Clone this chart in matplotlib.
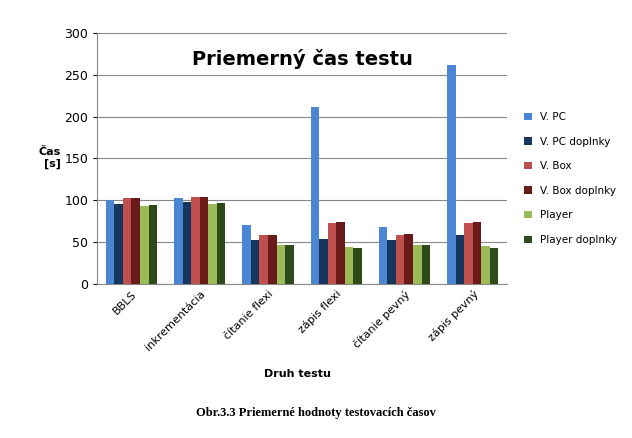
import matplotlib.pyplot as plt
import numpy as np

categories = ["BBLS", "inkrementácia", "čítanie flexi", "zápis flexi", "čítanie pevný", "zápis pevný"]
series_names = ["V. PC", "V. PC doplnky", "V. Box", "V. Box doplnky", "Player", "Player doplnky"]
v_pc = [100, 102, 70, 211, 68, 262]
v_pc_dopl = [96, 98, 52, 53, 52, 58]
v_box = [102, 104, 58, 73, 58, 73]
v_box_dopl = [102, 104, 58, 74, 59, 74]
player = [93, 95, 47, 44, 47, 45]
player_dopl = [94, 97, 47, 43, 47, 43]
colors = ["#4a86d4", "#17365d", "#c0504d", "#6b1a1a", "#9bbb59", "#2f4a1a"]

series = [v_pc, v_pc_dopl, v_box, v_box_dopl, player, player_dopl]

fig = plt.figure(figsize=(6.32, 4.38), dpi=100)
fig.patch.set_facecolor("white")
ax = fig.add_axes([0.154, 0.352, 0.648, 0.573])

x = np.arange(len(categories))
w = 0.125
for i, (vals, name, c) in enumerate(zip(series, series_names, colors)):
    ax.bar(x + (i - 2.5) * w, vals, w, color=c, label=name, zorder=3)

ax.set_xlim(-0.5, len(categories) - 0.5)
ax.set_ylim(0, 300)
ax.set_yticks(range(0, 301, 50))
ax.yaxis.grid(True, color="#888888", lw=0.8, zorder=0)
ax.set_xticks(x)
ax.set_xticklabels(categories, rotation=45, ha="right", rotation_mode="anchor", fontsize=8)
ax.tick_params(axis="y", labelsize=9, length=3)
ax.tick_params(axis="x", length=0)
for s in ["top", "right"]:
    ax.spines[s].set_visible(False)
ax.spines["left"].set_color("#888888")
ax.spines["bottom"].set_color("#888888")

ax.set_title("Priemerný čas testu", fontsize=14, fontweight="bold", y=0.84)
ax.set_ylabel("Čas\n[s]", rotation=0, fontsize=8, fontweight="bold", ha="right", va="center")
ax.yaxis.set_label_coords(-0.09, 0.5)
fig.text(0.47, 0.14, "Druh testu", ha="center", fontsize=8, fontweight="bold")

ax.legend(loc="center left", bbox_to_anchor=(1.02, 0.42), frameon=False, fontsize=7.5,
          handlelength=0.7, handleheight=0.7, labelspacing=1.4)

fig.text(0.5, 0.05, "Obr.3.3 Priemerné hodnoty testovacích časov", ha="center",
         fontsize=9, fontweight="bold", family="Liberation Serif")

fig.savefig("out.png", dpi=100)
